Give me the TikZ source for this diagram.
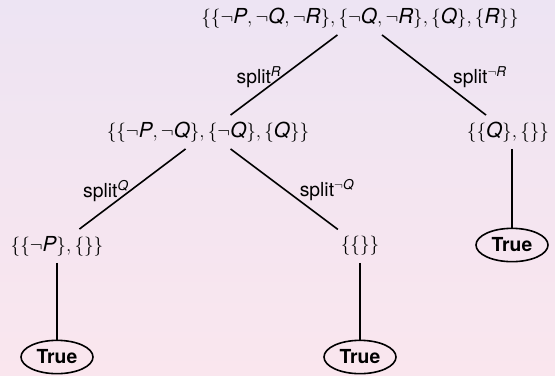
\documentclass[tikz,border=0pt]{standalone}
\usepackage{amsmath}
\usepackage{fontspec}
\setmainfont{TeX Gyre Heros}
\usetikzlibrary{positioning,shapes.geometric}
\definecolor{bgtop}{RGB}{237,228,243}
\definecolor{bgbot}{RGB}{250,230,238}
\newcommand{\lit}[1]{\textit{#1}}

\begin{document}
\begin{tikzpicture}[x=0.75pt,y=-0.75pt,
  clause/.style={inner xsep=2pt,minimum height=25pt,font=\fontsize{15.5}{18}\selectfont},
  truebox/.style={ellipse,draw,line width=1.2pt,minimum width=54pt,minimum height=25pt,inner sep=0pt,font=\fontsize{14.5}{17}\selectfont\bfseries},
  branch/.style={line width=1.2pt},
  splitlab/.style={inner sep=1pt,font=\fontsize{14.5}{17}\selectfont},
]
% Background
\shade[top color=bgtop,bottom color=bgbot] (0,0) rectangle (555,375);
\useasboundingbox (0,0) rectangle (555,375);

% Clause sets
\node[clause] (root) at (360,18) {$\{\{\neg\lit{P},\neg\lit{Q},\neg\lit{R}\},\{\neg\lit{Q},\neg\lit{R}\},\{\lit{Q}\},\{\lit{R}\}\}$};
\node[clause] (splitr) at (208,132) {$\{\{\neg\lit{P},\neg\lit{Q}\},\{\neg\lit{Q}\},\{\lit{Q}\}\}$};
\node[clause] (splitnr) at (508,132) {$\{\{\lit{Q}\},\{\}\}$};
\node[clause] (splitq) at (57,246) {$\{\{\neg\lit{P}\},\{\}\}$};
\node[clause] (splitnq) at (360,246) {$\{\{\}\}$};

% Leaves
\node[truebox] (true1) at (57,357) {True};
\node[truebox] (true2) at (360,357) {True};
\node[truebox] (true3) at (512,245) {True};

% Branches
\draw[branch] (root) -- (splitr);
\draw[branch] (root) -- (splitnr);
\draw[branch] (splitr) -- (splitq);
\draw[branch] (splitr) -- (splitnq);
\draw[branch] (splitq) -- (true1);
\draw[branch] (splitnq) -- (true2);
\draw[branch] (splitnr.south -| true3) -- (true3);

% Branch labels
\node[splitlab] (labr) at (259,77) {split$^{\lit{R}}$};
\node[splitlab] (labnr) at (480,77) {split$^{\neg\lit{R}}$};
\node[splitlab] (labq) at (106,191) {split$^{\lit{Q}}$};
\node[splitlab] (labnq) at (327,190) {split$^{\neg\lit{Q}}$};
\end{tikzpicture}
\end{document}
